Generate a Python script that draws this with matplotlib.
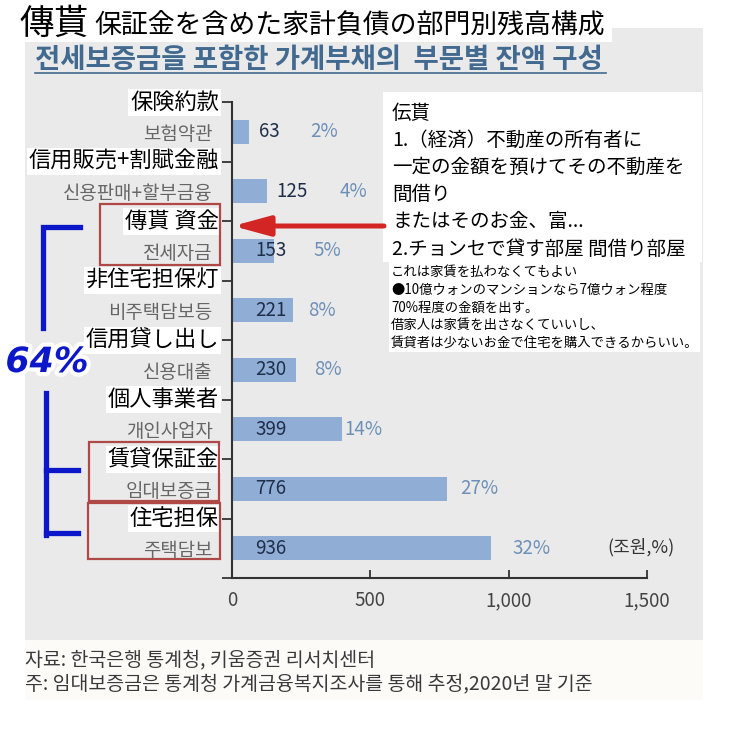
import numpy as np
import matplotlib
matplotlib.use('Agg')
import matplotlib.pyplot as plt
from matplotlib.patches import Rectangle
import matplotlib.patheffects as pe

plt.rcParams['font.family'] = ['Noto Sans CJK KR', 'DejaVu Sans']
JP = ['Noto Sans CJK JP', 'DejaVu Sans']

### data
cats_kr = ['보험약관', '신용판매+할부금융', '전세자금', '비주택담보등',
           '신용대출', '개인사업자', '임대보증금', '주택담보']
cats_jp = ['保険約款', '信用販売+割賦金融', '傳貰 資金', '非住宅担保灯',
           '信用貸し出し', '個人事業者', '賃貸保証金', '住宅担保']
values = [63, 125, 153, 221, 230, 399, 776, 936]
shares = [2, 4, 5, 8, 8, 14, 27, 32]
xticks = [0, 500, 1000, 1500]

title_big = '傳貰'
title_jp = '保証金を含めた家計負債の部門別残高構成'
title_kr = '전세보증금을 포함한 가계부채의  부문별 잔액 구성'
note_big = ['伝貰', '1.（経済）不動産の所有者に', '一定の金額を預けてその不動産を',
            '間借り', 'またはそのお金、富...', '2.チョンセで貸す部屋 間借り部屋']
note_small = ['これは家賃を払わなくてもよい', '●10億ウォンのマンションなら7億ウォン程度',
              '70%程度の金額を出す。', '借家人は家賃を出さなくていいし、',
              '賃貸者は少ないお金で住宅を購入できるからいい。']
source = ['자료: 한국은행 통계청, 키움증권 리서치센터',
          '주: 임대보증금은 통계청 가계금융복지조사를 통해 추정,2020년 말 기준']
unit = '(조원,%)'
total_share = '64%'

W, H = 744, 741
fig = plt.figure(figsize=(W / 100, H / 100), dpi=100)

# background layer (pixel coords, y down)
bg = fig.add_axes([0, 0, 1, 1], zorder=0)
bg.set_xlim(0, W)
bg.set_ylim(H, 0)
bg.axis('off')
bg.add_patch(Rectangle((25, 28), 678, 612, color='#eaeaea', lw=0))
bg.add_patch(Rectangle((25, 640), 678, 60, color='#fcfbf8', lw=0))
bg.add_patch(Rectangle((0, 0), 612, 42, color='white', lw=0))
bg.text(19, 24, title_big, fontsize=25, family=JP, va='center', ha='left')
bg.text(94, 25, title_jp, fontsize=19.4, family=JP, va='center', ha='left')
bg.text(35, 60, title_kr, fontsize=19.8, fontweight='bold', color='#42698f',
        va='center', ha='left')
bg.plot([35, 606], [73, 73], color='#42698f', lw=1.2)
bg.text(25, 660, source[0], fontsize=14, color='#3a3a3a', va='center')
bg.text(25, 684, source[1], fontsize=14, color='#3a3a3a', va='center')
bg.text(607, 547, unit, fontsize=13, color='#333333', va='center')

# chart
ax = fig.add_axes([232 / W, 1 - 578 / H, (647 - 232) / W, (578 - 102) / H], zorder=1)
ax.patch.set_alpha(0)
y = np.arange(len(values))
ax.barh(y, values, height=0.4, color='#8fadd5')
ax.set_xlim(0, 1500)
ax.set_ylim(len(values) - 0.5, -0.5)
for s in ['top', 'right']:
    ax.spines[s].set_visible(False)
for s in ['left', 'bottom']:
    ax.spines[s].set_color('#333333')
    ax.spines[s].set_linewidth(1.5)

ax.set_yticks(y)
ax.set_yticklabels(cats_kr, fontsize=13.6, color='#666666')
ax.tick_params(axis='y', which='major', length=0, pad=14)
ax.set_yticks(np.arange(-0.5, len(values)), minor=True)
ax.tick_params(axis='y', which='minor', length=7, width=1.3, color='#333333', direction='out')
ax.set_xticks(xticks)
ax.set_xticklabels([f'{t:,}' for t in xticks])
ax.tick_params(axis='x', length=6, width=1.3, color='#333333', direction='in',
               pad=9, labelsize=13.5, labelcolor='#444444')

# japanese labels on the boundary ticks
jp_x = (219 - 232) / (647 - 232)
for i, lab in enumerate(cats_jp):
    ax.text(jp_x, i - 0.5, lab, transform=ax.get_yaxis_transform(), ha='right', va='center',
            fontsize=16, family=JP, zorder=5,
            bbox=dict(fc='white', ec='none', pad=1.5))

# value and share labels
pct_x = [282, 390, 293, 275, 296, 405, 824, 1012]
for i, (v, s) in enumerate(zip(values, shares)):
    vx = v + 35 if v < 150 else 85
    ax.text(vx, i, str(v), va='center', ha='left', fontsize=13.5, color='#1f2f4a')
    ax.text(pct_x[i], i, f'{s}%', va='center', ha='left', fontsize=13.5, color='#6e90b8')

# overlay annotations
ov = fig.add_axes([0, 0, 1, 1], zorder=2)
ov.set_xlim(0, W)
ov.set_ylim(H, 0)
ov.axis('off')
ov.patch.set_alpha(0)

ov.add_patch(Rectangle((383, 92), 319, 170, fc='white', ec='none'))
ov.add_patch(Rectangle((389, 262), 311, 90, fc='white', ec='none'))
for k, line in enumerate(note_big):
    ov.text(392, 113 + k * 27.2, line, fontsize=14, family=JP, va='center', ha='left')
for k, line in enumerate(note_small):
    ov.text(391, 272 + k * 17.8, line, fontsize=9.6, family=JP, va='center', ha='left')

ov.annotate('', xy=(233, 226), xytext=(384, 226),
            arrowprops=dict(arrowstyle='-|>,head_length=2.2,head_width=0.6',
                            lw=3.6, color='#d42525', shrinkA=0, shrinkB=0))

for (x0, y0, x1, y1) in [(100, 204, 220, 265), (89, 442, 219, 501), (88, 503, 220, 559)]:
    ov.add_patch(Rectangle((x0, y0), x1 - x0, y1 - y0, fill=False, ec='#b04848', lw=1.6))

blue = '#0b17c9'
ov.plot([80, 43, 43], [227, 227, 328], color=blue, lw=3.8, solid_joinstyle='miter')
ov.plot([46, 46], [393, 535], color=blue, lw=3.8)
ov.plot([46, 78], [470, 470], color=blue, lw=3.8)
ov.plot([46, 78], [533, 533], color=blue, lw=3.8)
ov.text(47, 362, total_share, fontsize=25, color=blue, fontweight='bold', style='italic',
        family='DejaVu Sans', ha='center', va='center',
        path_effects=[pe.withStroke(linewidth=6, foreground='white')])

fig.savefig('out.png', dpi=100)
